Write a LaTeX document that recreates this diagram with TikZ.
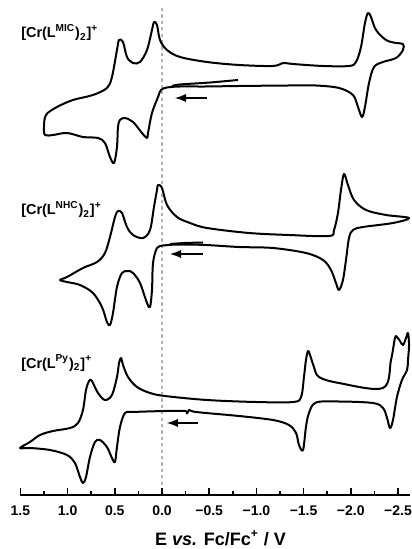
\documentclass[tikz,border=0pt]{standalone}
\usepackage{fontspec}
\setmainfont{Liberation Sans}
\usepackage{tikz}
\usetikzlibrary{arrows}
\tikzset{font=\bfseries}
\tikzset{every node/.append style={inner sep=0pt}}

\begin{document}
\begin{tikzpicture}[x=-47.2pt,y=-0.5pt,
  cv/.style={line width=1pt,line join=round},
  scan/.style={-latex,line width=0.9pt},
  lbl/.style={anchor=base west,font=\fontsize{7.2}{8}\selectfont\bfseries}]
\useasboundingbox (1.716,0) rectangle (-2.648,549);
% zero line
\draw[gray!60,line width=0.6pt,dash pattern=on 1.6pt off 1.6pt] (0,8)--(0,495);
% axis
\draw[line width=0.8pt] (1.5,495)--(-2.63,495);
\foreach \E/\lab [count=\i] in {1.5/1.5,1.0/1.0,0.5/0.5,0.0/0.0,-0.5/−0.5,-1.0/−1.0,-1.5/−1.5,-2.0/−2.0,-2.5/−2.5}
{
 \draw[line width=0.8pt] (\E,495)--(\E,487.5);
 \node[anchor=base,font=\fontsize{7}{8}\selectfont\bfseries] (tick\i) at (\E,515.5) {\lab};
}
\foreach \E in {1.25,0.75,...,-2.25}
 \draw[line width=0.8pt] (\E,495)--(\E,491);
\node[anchor=base,font=\fontsize{9}{10}\selectfont\bfseries] (xtitle) at (-0.62,545.5)
 {E \textit{vs.} Fc/Fc\textsuperscript{+} / V};

% [Cr(L^MIC)2]+
\node[lbl] (miclab) at (1.494,38) {[Cr(L\textsuperscript{MIC})\textsubscript{2}]\textsuperscript{+}};
\draw[cv] plot[smooth cycle,tension=0.55] coordinates {
 (-1.345,85.5) (-0.816,86) (-0.466,86.5) (-0.191,86.5) (-0.053,87.5) (0.011,90) (0.042,97)
 (0.106,113) (0.148,133) (0.159,138) (0.212,133) (0.307,122) (0.392,118) (0.445,120)
 (0.466,127) (0.477,147) (0.508,163) (0.551,157) (0.604,143) (0.678,138) (0.837,137)
 (1.006,133) (1.155,135) (1.239,135) (1.250,127) (1.229,115) (1.112,107) (0.943,100)
 (0.731,95) (0.583,88) (0.530,77) (0.477,50) (0.455,40) (0.413,42) (0.371,57) (0.307,63)
 (0.233,62) (0.159,50) (0.106,30) (0.085,22) (0.053,25) (0.021,40) (-0.053,50) (-0.191,57)
 (-0.477,62) (-0.816,65) (-1.176,66) (-1.282,63) (-1.388,64) (-1.706,66) (-1.981,66)
 (-2.055,62) (-2.108,47) (-2.150,23) (-2.182,13) (-2.214,17) (-2.267,30) (-2.373,40)
 (-2.479,43) (-2.553,44) (-2.553,50) (-2.479,58) (-2.341,62) (-2.246,67) (-2.193,83)
 (-2.150,107) (-2.119,117) (-2.076,107) (-2.023,95) (-1.875,88) (-1.631,85.5)};
\draw[cv] plot[smooth,tension=0.55] coordinates {(-0.805,80) (-0.509,82.5) (-0.191,84.5) (-0.106,86)};
\coordinate (mictail) at (-0.477,98);
\coordinate (mictip) at (-0.138,98);
\draw[scan] (mictail)--(mictip);

% [Cr(L^NHC)2]+
\node[lbl] (nhclab) at (1.494,215) {[Cr(L\textsuperscript{NHC})\textsubscript{2}]\textsuperscript{+}};
\draw[cv] plot[smooth cycle,tension=0.55] coordinates {
 (-1.525,253) (-1.176,248) (-0.816,247) (-0.466,245) (-0.191,244.5) (-0.064,245)
 (-0.011,245.5) (0.053,248) (0.095,263) (0.106,290) (0.127,307) (0.159,303) (0.233,283)
 (0.307,273) (0.360,271) (0.424,273) (0.477,287) (0.519,313) (0.551,325) (0.583,322)
 (0.636,307) (0.731,293) (0.869,285) (1.006,282) (1.080,280) (1.006,277) (0.837,268)
 (0.688,262) (0.604,253) (0.551,237) (0.498,217) (0.466,211) (0.424,213) (0.371,227)
 (0.307,235) (0.201,238) (0.127,230) (0.085,207) (0.053,190) (0.042,185) (0.000,188)
 (-0.053,205) (-0.159,217) (-0.297,223) (-0.477,228) (-0.922,233) (-1.345,235) (-1.769,236)
 (-1.822,230) (-1.864,213) (-1.896,190) (-1.928,174) (-1.970,185) (-2.034,200) (-2.161,210)
 (-2.373,215) (-2.617,218) (-2.447,223) (-2.129,227) (-2.023,230) (-1.981,238) (-1.949,260)
 (-1.917,280) (-1.875,290) (-1.843,283) (-1.790,270) (-1.706,260)};
\draw[cv] plot[smooth,tension=0.55] coordinates {(-0.434,242.5) (-0.244,243) (-0.085,244)};
\coordinate (nhctail) at (-0.434,254);
\coordinate (nhctip) at (-0.085,254);
\draw[scan] (nhctail)--(nhctip);

% [Cr(L^Py)2]+
\node[lbl] (pylab) at (1.494,368) {[Cr(L\textsuperscript{Py})\textsubscript{2}]\textsuperscript{+}};
\draw[cv] plot[smooth cycle,tension=0.55] coordinates {
 (-1.875,401.5) (-1.631,402.5) (-1.557,413) (-1.525,427) (-1.494,450)
 (-1.451,445) (-1.420,433) (-1.345,425) (-1.176,420) (-0.816,416) (-0.466,413) (-0.328,411.5)
 (-0.286,410) (-0.265,413.5) (-0.244,411) (-0.032,411) (0.307,412) (0.392,413) (0.445,427)
 (0.477,447) (0.498,462) (0.530,458) (0.583,447) (0.657,440) (0.710,442) (0.763,457)
 (0.805,477) (0.837,483) (0.869,477) (0.922,463) (1.006,455) (1.186,450) (1.398,448)
 (1.504,448) (1.398,442) (1.292,435) (1.155,431) (0.974,428) (0.890,423) (0.837,410)
 (0.805,390) (0.773,381) (0.752,380) (0.731,383) (0.678,393) (0.604,400) (0.530,395)
 (0.477,377) (0.455,363) (0.434,358) (0.413,365) (0.360,377) (0.265,387) (0.127,393)
 (-0.032,396) (-0.477,400) (-0.996,402) (-1.388,402) (-1.473,397) (-1.504,377) (-1.525,360)
 (-1.547,351) (-1.568,355) (-1.610,367) (-1.663,377) (-1.875,383) (-2.341,388) (-2.426,360)
 (-2.468,338) (-2.489,337) (-2.521,341) (-2.553,345) (-2.585,338) (-2.606,333) (-2.617,345)
 (-2.606,360) (-2.596,370) (-2.542,380) (-2.489,397) (-2.447,420) (-2.415,428) (-2.384,418)
 (-2.341,408) (-2.235,403)};
\coordinate (pytail) at (-0.381,423);
\coordinate (pytip) at (-0.053,423);
\draw[scan] (pytail)--(pytip);
\end{tikzpicture}
\end{document}
